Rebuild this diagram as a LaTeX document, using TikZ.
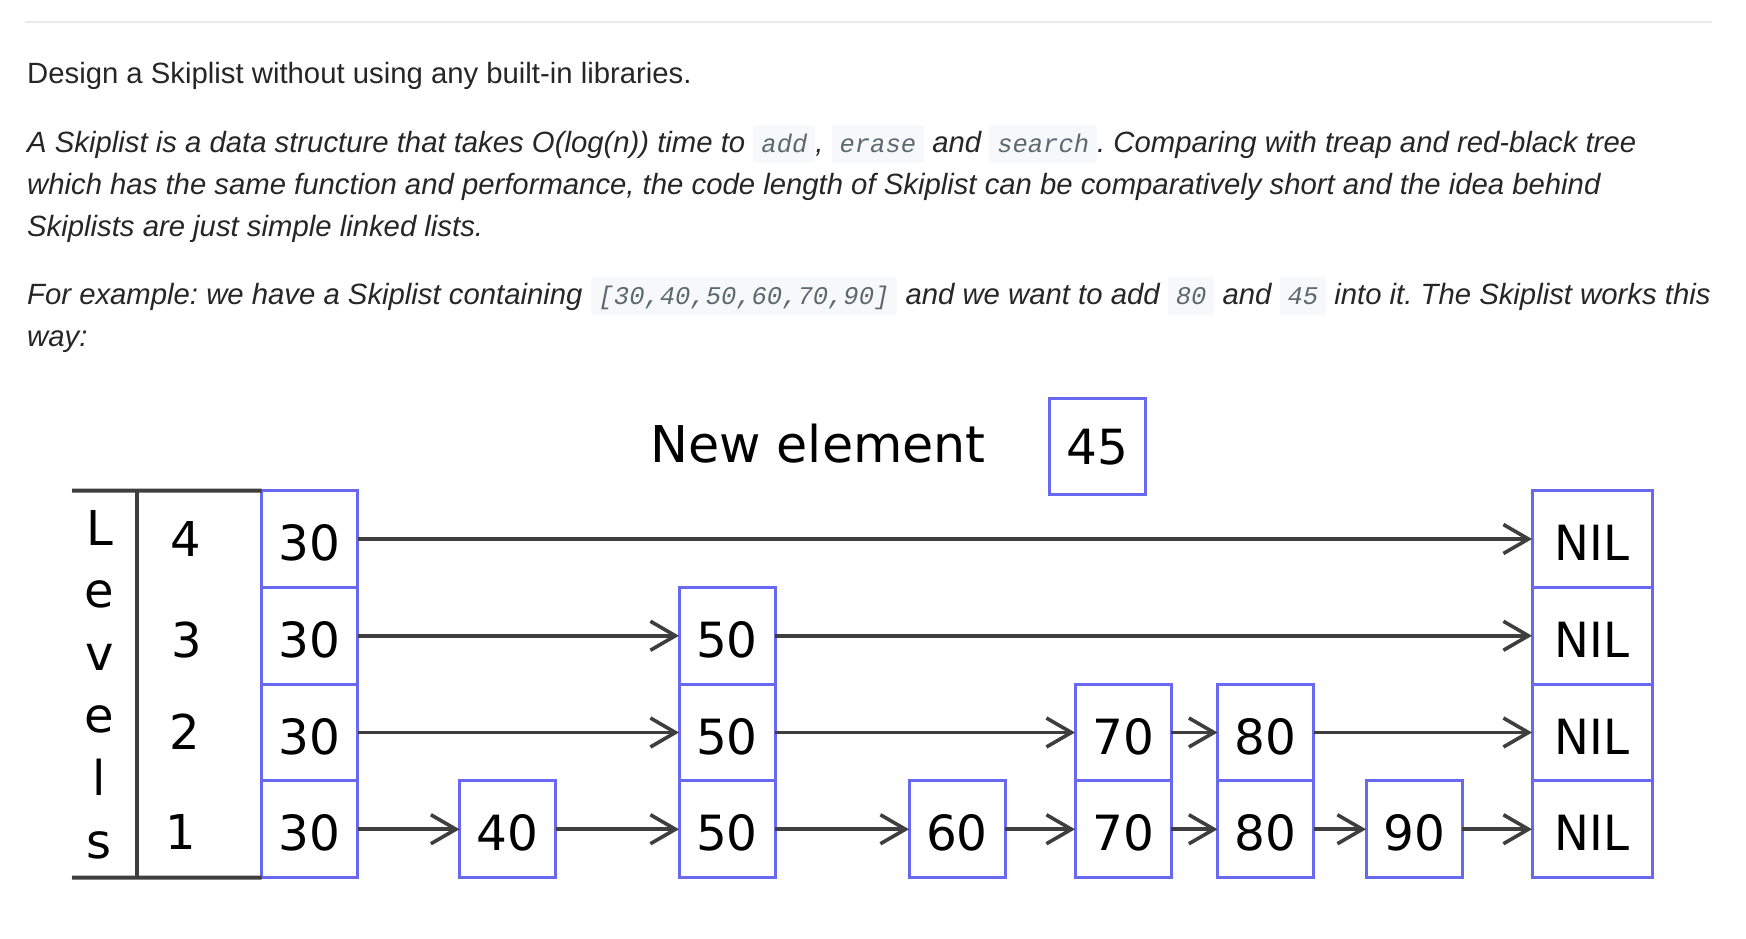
\documentclass[tikz,border=0pt]{standalone}
\usepackage{fontspec}
\setmainfont{Liberation Sans}
\newfontfamily\codefont{Liberation Mono}
\newfontfamily\diagfont{DejaVu Sans}
\usetikzlibrary{arrows.meta,positioning}
\frenchspacing

\definecolor{bodytext}{RGB}{38,38,38}
\definecolor{codetext}{RGB}{92,106,112}
\definecolor{codebg}{RGB}{246,248,250}
\definecolor{hrule}{RGB}{234,234,234}
\definecolor{cellblue}{RGB}{104,104,240}
\definecolor{linkgray}{RGB}{62,62,62}

\newcommand\codebit[1]{{\setlength\fboxsep{0pt}\colorbox{codebg}{\hspace{8pt}\rule[-11pt]{0pt}{38pt}{\codefont\itshape\fontsize{25.5}{30}\selectfont\color{codetext}#1}\hspace{8pt}}}}

\begin{document}
\begin{tikzpicture}[
  x=1pt, y=-1pt,
  txt/.style={anchor=base west, inner sep=0pt, text=bodytext, font=\fontsize{29.3}{35}\selectfont},
  itxt/.style={txt, font=\fontsize{29.3}{35}\selectfont\itshape},
  cell/.style={draw=cellblue, line width=3pt, minimum width=96pt, minimum height=96.75pt, inner sep=0pt, outer sep=0pt, text height=43pt, text depth=0pt, font=\diagfont\fontsize{48.5}{58}\selectfont},
  nilcell/.style={cell, minimum width=120pt},
  lvl/.style={inner sep=0pt, font=\diagfont\fontsize{48}{58}\selectfont},
  link/.style={-{Straight Barb[length=25pt,width=29pt]}, line width=3.6pt, draw=linkgray},
  tblrule/.style={line width=4pt, draw=linkgray}
]
\fill[white] (0,0) rectangle (1746,938);
\useasboundingbox (0,0) rectangle (1746,938);

% page text
\coordinate (ruleL) at (24.5,22);
\coordinate (ruleR) at (1712,22);
\draw[line width=2pt, draw=hrule] (ruleL) -- (ruleR);

\node[txt] (intro) at (27,83) {Design a Skiplist without using any built-in libraries.};
\node[itxt] (descA) at (27,152) {A Skiplist is a data structure that takes O(log(n)) time to \codebit{add}, \codebit{erase} and \codebit{search}. Comparing with treap and red-black tree};
\node[itxt] (descB) at (27,194) {which has the same function and performance, the code length of Skiplist can be comparatively short and the idea behind};
\node[itxt] (descC) at (27,236) {Skiplists are just simple linked lists.};
\node[itxt] (exA) at (27,304) {For example: we have a Skiplist containing \codebit{[30,40,50,60,70,90]} and we want to add \codebit{80} and \codebit{45} into it. The Skiplist works this};
\node[itxt] (exB) at (27,346) {way:};

% new element
\node[lvl, anchor=base, font=\diagfont\fontsize{50.7}{60}\selectfont] (newlabel) at (818,462) {New element};
\node[cell, text height=36pt] (newval) at (1097.5,446.5) {45};

% skip list columns
\foreach \v/\x/\h in {30/309.5/4,40/507.5/1,50/727/3,60/957/1,70/1123/2,80/1265.5/2,90/1414/1}
  \foreach \r in {1,...,\h}
    \node[cell] (n\v-\r) at (\x,{829.25-96.75*(\r-1)}) {\v};
\foreach \r in {1,...,4}
  \node[nilcell] (nil-\r) at (1592,{829.25-96.75*(\r-1)}) {\scalebox{0.96}[1]{NIL}};

% levels table
\coordinate (tblTop) at (72,490.5);
\coordinate (tblBot) at (72,877.5);
\coordinate (divTop) at (136.5,490.5);
\coordinate (divBot) at (136.5,877.5);
\draw[tblrule] (tblTop) -- (n30-4.north west);
\draw[tblrule] (tblBot) -- (n30-1.south west);
\draw[tblrule] (divTop) -- (divBot);
\foreach \ch [count=\i] in {L,e,v,e,l,s}
  \node[lvl, anchor=base] (lv\i) at (99.5,{545+62.6*(\i-1)}) {\ch};
\foreach \n/\x/\y in {4/186/539,3/187/640,2/185/731.5,1/181/831.5}
  \node[lvl] (num\n) at (\x,\y) {\n};

% forward pointers
\foreach \a/\b in {n30-4/nil-4, n30-3/n50-3, n50-3/nil-3, n30-2/n50-2, n50-2/n70-2, n70-2/n80-2, n80-2/nil-2,
    n30-1/n40-1, n40-1/n50-1, n50-1/n60-1, n60-1/n70-1, n70-1/n80-1, n80-1/n90-1, n90-1/nil-1}
  \draw[link] (\a) -- (\b);
\end{tikzpicture}
\end{document}
